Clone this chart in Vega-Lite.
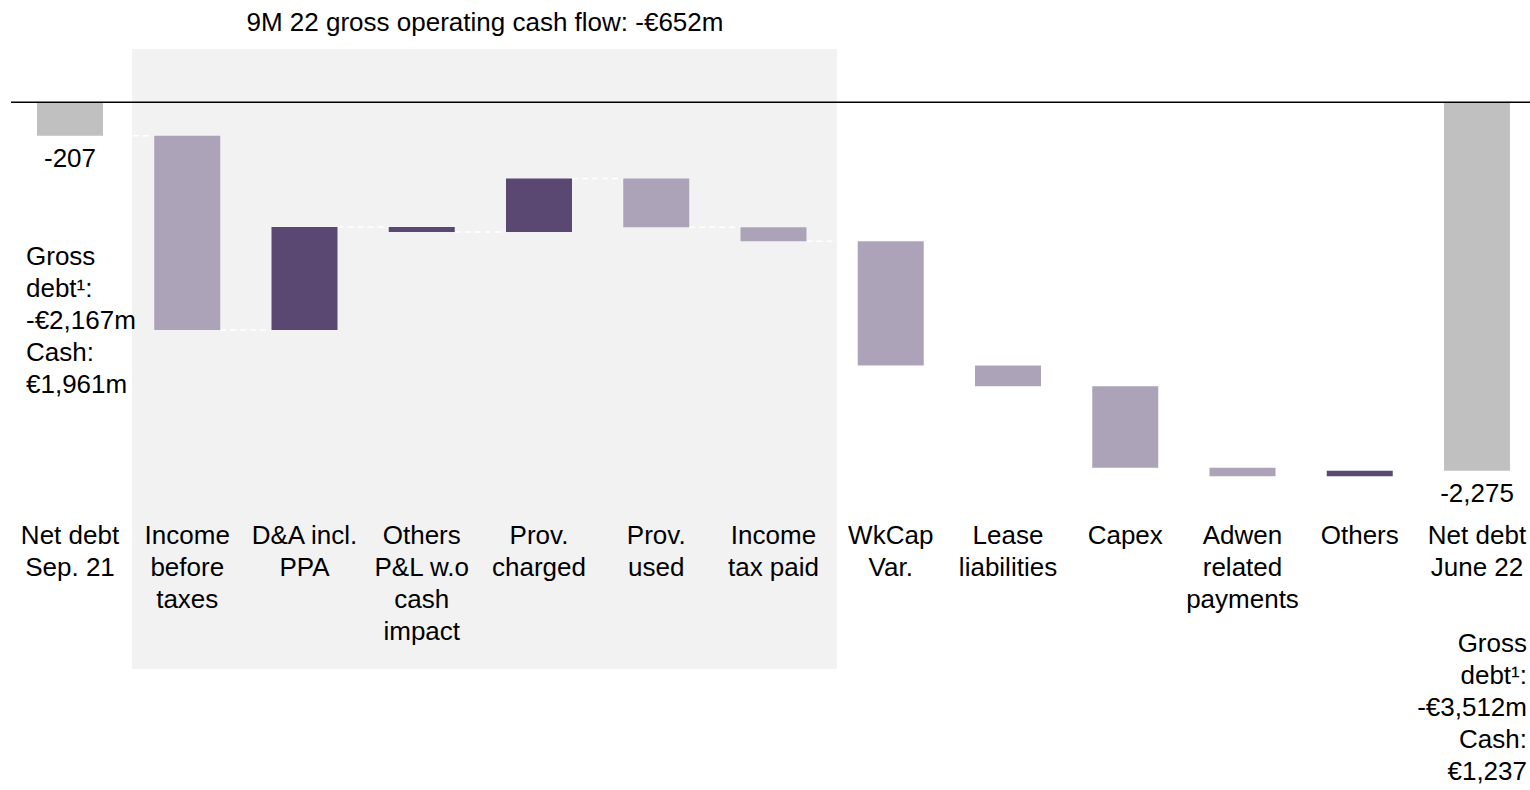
{
  "$schema": "https://vega.github.io/schema/vega-lite/v6.json",
  "width": 1519,
  "height": 620,
  "autosize": {"type": "none"},
  "padding": {"left": 11, "top": 49, "right": 0, "bottom": 121},
  "background": "white",
  "config": {"view": {"stroke": null}, "font": "Liberation Sans, Arial, sans-serif"},
  "datasets": {
    "bars": [
      {"cat": "Net debt|Sep. 21", "start": 0, "end": -207, "kind": "total", "label": "-207"},
      {"cat": "Income|before|taxes", "start": -207, "end": -1406, "kind": "cash"},
      {"cat": "D&A incl.|PPA", "start": -1406, "end": -770, "kind": "non-cash"},
      {"cat": "Others|P&L w.o|cash|impact", "start": -770, "end": -801, "kind": "non-cash"},
      {"cat": "Prov.|charged", "start": -801, "end": -470, "kind": "non-cash"},
      {"cat": "Prov.|used", "start": -470, "end": -772, "kind": "cash"},
      {"cat": "Income|tax paid", "start": -772, "end": -859, "kind": "cash"},
      {"cat": "WkCap|Var.", "start": -859, "end": -1625, "kind": "cash"},
      {"cat": "Lease|liabilities", "start": -1625, "end": -1754, "kind": "cash"},
      {"cat": "Capex", "start": -1754, "end": -2257, "kind": "cash"},
      {"cat": "Adwen|related|payments", "start": -2257, "end": -2310, "kind": "cash"},
      {"cat": "Others", "start": -2310, "end": -2275, "kind": "non-cash"},
      {"cat": "Net debt|June 22", "start": 0, "end": -2275, "kind": "total", "label": "-2,275"}
    ],
    "links": [
      {"cat": "Net debt|Sep. 21", "next": "Income|before|taxes", "level": -207},
      {"cat": "Income|before|taxes", "next": "D&A incl.|PPA", "level": -1406},
      {"cat": "D&A incl.|PPA", "next": "Others|P&L w.o|cash|impact", "level": -770},
      {"cat": "Others|P&L w.o|cash|impact", "next": "Prov.|charged", "level": -801},
      {"cat": "Prov.|charged", "next": "Prov.|used", "level": -470},
      {"cat": "Prov.|used", "next": "Income|tax paid", "level": -772},
      {"cat": "Income|tax paid", "next": "WkCap|Var.", "level": -859},
      {"cat": "WkCap|Var.", "next": "Lease|liabilities", "level": -1625},
      {"cat": "Lease|liabilities", "next": "Capex", "level": -1754},
      {"cat": "Capex", "next": "Adwen|related|payments", "level": -2257},
      {"cat": "Adwen|related|payments", "next": "Others", "level": -2310},
      {"cat": "Others", "next": "Net debt|June 22", "level": -2275}
    ]
  },
  "layer": [
    {
      "data": {"values": [{"cat": "Income|before|taxes", "cat2": "Income|tax paid"}]},
      "mark": {"type": "rect", "color": "#F2F2F2"},
      "encoding": {
        "x": {"field": "cat", "type": "nominal", "bandPosition": -0.337},
        "x2": {"field": "cat2", "bandPosition": 1.462}
      }
    },
    {
      "data": {"name": "links"},
      "mark": {"type": "rule", "color": "white", "strokeWidth": 1.5, "strokeDash": [6, 4]},
      "encoding": {
        "x": {"field": "cat", "type": "nominal", "bandPosition": 1},
        "x2": {"field": "next", "bandPosition": 0},
        "y": {"field": "level", "type": "quantitative", "axis": null}
      }
    },
    {
      "data": {"name": "bars"},
      "mark": {"type": "bar"},
      "encoding": {
        "x": {
          "field": "cat",
          "type": "nominal",
          "sort": null,
          "scale": {
            "domain": ["Net debt|Sep. 21", "Income|before|taxes", "D&A incl.|PPA", "Others|P&L w.o|cash|impact", "Prov.|charged", "Prov.|used", "Income|tax paid", "WkCap|Var.", "Lease|liabilities", "Capex", "Adwen|related|payments", "Others", "Net debt|June 22"],
            "paddingInner": 0.4371,
            "paddingOuter": 0.1962,
            "align": 0.565
          },
          "axis": {
            "title": null,
            "orient": "bottom",
            "offset": -146.7,
            "domain": false,
            "ticks": false,
            "tickSize": 0,
            "grid": false,
            "labelPadding": 0,
            "labelAngle": 0,
            "labelAlign": "center",
            "labelBaseline": "top",
            "labelFontSize": 26,
            "labelFont": "Liberation Sans, Arial, sans-serif",
            "labelColor": "#000000",
            "labelLineHeight": 32,
            "labelExpr": "split(datum.label, '|')",
            "labelOverlap": false,
            "labelBound": false,
            "labelLimit": 0,
            "zindex": 1
          }
        },
        "y": {"field": "start", "type": "quantitative", "scale": {"domain": [-3500, 329], "nice": false, "zero": false}, "axis": null},
        "y2": {"field": "end"},
        "color": {"field": "kind", "type": "nominal", "scale": {"domain": ["total", "non-cash", "cash"], "range": ["#C0C0C0", "#5A4872", "#ADA3B9"]}, "legend": null}
      }
    },
    {
      "data": {"name": "bars"},
      "transform": [{"filter": "datum.kind === 'total'"}],
      "mark": {"type": "text", "fontSize": 26, "baseline": "top", "align": "center", "dy": 10, "color": "#000000"},
      "encoding": {
        "x": {"field": "cat", "type": "nominal"},
        "y": {"field": "end", "type": "quantitative", "axis": null},
        "text": {"field": "label", "type": "nominal"}
      }
    },
    {
      "data": {"values": [{"cat": "Net debt|Sep. 21", "note": ["Gross", "debt¹:", "-€2,167m", "Cash:", "€1,961m"]}]},
      "mark": {"type": "text", "fontSize": 26, "baseline": "alphabetic", "align": "left", "dx": -44, "lineHeight": 32, "color": "#000000"},
      "encoding": {
        "x": {"field": "cat", "type": "nominal"},
        "y": {"datum": -1005, "type": "quantitative", "axis": null},
        "text": {"field": "note", "type": "nominal"}
      }
    },
    {
      "data": {"values": [{"cat": "Net debt|June 22", "note": ["Gross", "debt¹:", "-€3,512m", "Cash:", "€1,237"]}]},
      "mark": {"type": "text", "fontSize": 26, "baseline": "alphabetic", "align": "right", "dx": 50, "lineHeight": 32, "color": "#000000"},
      "encoding": {
        "x": {"field": "cat", "type": "nominal"},
        "y": {"datum": -3397, "type": "quantitative", "axis": null},
        "text": {"field": "note", "type": "nominal"}
      }
    },
    {
      "data": {"values": [{"cat": "Others|P&L w.o|cash|impact", "note": "9M 22 gross operating cash flow: -€652m"}]},
      "mark": {"type": "text", "fontSize": 26, "baseline": "alphabetic", "align": "center", "dy": -18.3, "color": "#000000"},
      "encoding": {
        "x": {"field": "cat", "type": "nominal", "bandPosition": 1.458},
        "y": {"datum": 329, "type": "quantitative", "axis": null},
        "text": {"field": "note", "type": "nominal"}
      }
    },
    {
      "data": {"values": [{"z": 0}]},
      "mark": {"type": "rule", "color": "#000000", "strokeWidth": 1.5},
      "encoding": {
        "y": {"field": "z", "type": "quantitative", "axis": null}
      }
    }
  ]
}
